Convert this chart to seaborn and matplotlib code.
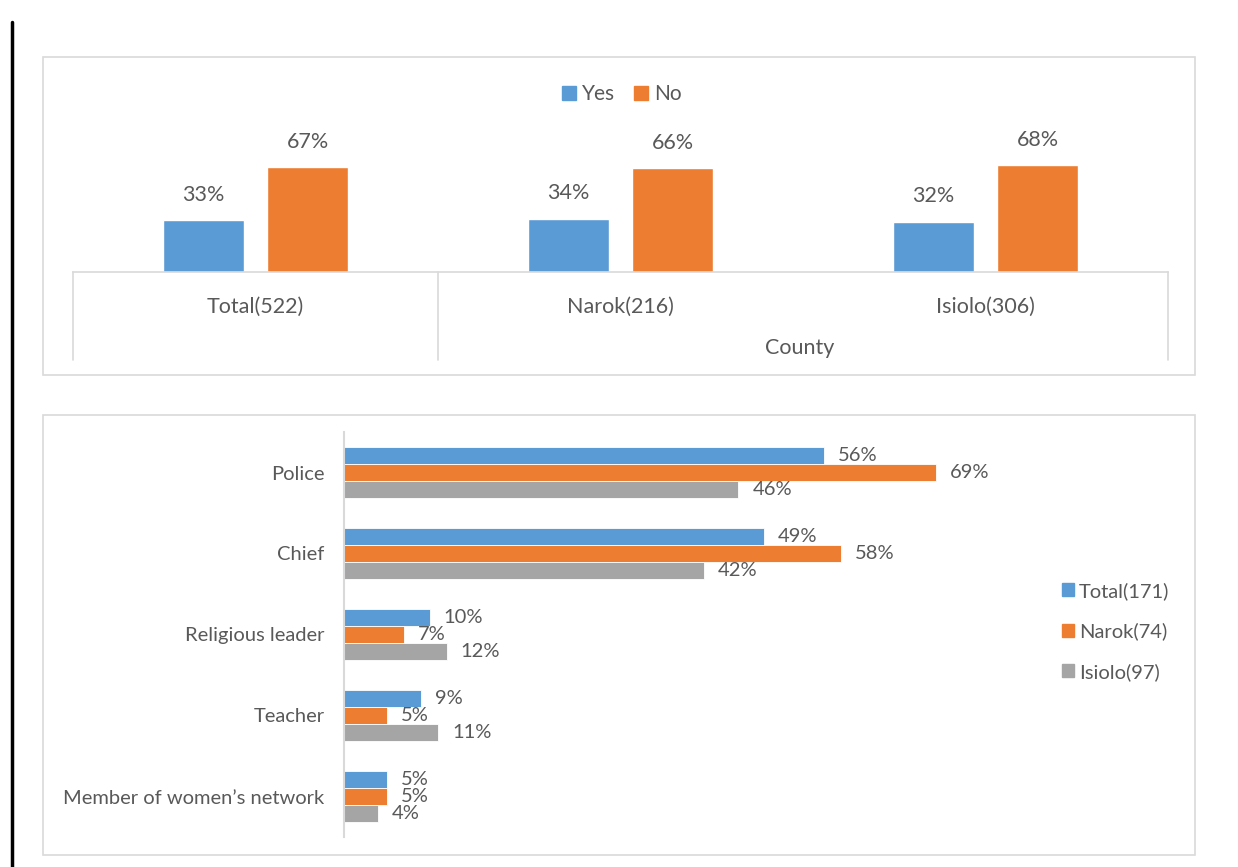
import matplotlib
matplotlib.use("Agg")
import matplotlib.pyplot as plt
import matplotlib.patches as mpatches
from matplotlib.lines import Line2D
import pandas as pd
import seaborn as sns

# data: top panel (reporting yes/no by county)
counties = ["Total(522)", "Narok(216)", "Isiolo(306)"]
yes_pct = [33, 34, 32]
no_pct = [67, 66, 68]

# data: bottom panel (who it was reported to)
roles = ["Police", "Chief", "Religious leader", "Teacher", "Member of women\u2019s network"]
groups = ["Total(171)", "Narok(74)", "Isiolo(97)"]
total_pct = [56, 49, 10, 9, 5]
narok_pct = [69, 58, 7, 5, 5]
isiolo_pct = [46, 42, 12, 11, 4]

BLUE, ORANGE, GREY = "#5B9BD5", "#ED7D31", "#A5A5A5"
TXT = "#595959"
LINE = "#D9D9D9"

sns.set_theme(style="white")
plt.rcParams["font.family"] = ["Lato", "DejaVu Sans"]

W, H = 1238, 867
fig = plt.figure(figsize=(W / 100, H / 100), dpi=100)


def fx(px):
    return px / W


def fy(py):
    return 1 - py / H


# panel frames and the black margin line
for top, bot in [(57, 375), (415, 855)]:
    fig.add_artist(mpatches.Rectangle((fx(43), fy(bot)), fx(1195) - fx(43), fy(top) - fy(bot),
                                      transform=fig.transFigure, fill=False,
                                      edgecolor=LINE, linewidth=1.2))
fig.add_artist(Line2D([fx(12), fx(12)], [fy(22), fy(867)], transform=fig.transFigure,
                      color="black", linewidth=2.5))

# ---- top chart
top_df = pd.DataFrame({
    "county": counties * 2,
    "answer": ["Yes"] * 3 + ["No"] * 3,
    "pct": yes_pct + no_pct,
})
ax1 = fig.add_axes([fx(73), fy(272), fx(1168) - fx(73), fy(115) - fy(272)])
sns.barplot(top_df, x="county", y="pct", hue="answer", order=counties,
            hue_order=["Yes", "No"], palette=[BLUE, ORANGE], width=0.57, gap=0.22,
            saturation=1, ax=ax1, legend=False)
ax1.set_xlim(-0.5, 2.5)
ax1.set_ylim(0, 100)
for c in ax1.containers:
    ax1.bar_label(c, labels=[f"{v:.0f}%" for v in c.datavalues], padding=11,
                  fontsize=15.5, color=TXT)
for s in ["top", "right", "left"]:
    ax1.spines[s].set_visible(False)
ax1.spines["bottom"].set_color(LINE)
ax1.spines["bottom"].set_linewidth(1.2)
ax1.set_yticks([])
ax1.set_xlabel("")
ax1.set_ylabel("")
ax1.tick_params(axis="x", length=0, pad=18, labelsize=15.5, labelcolor=TXT)
tr = ax1.get_xaxis_transform()
for xv in [-0.5, 0.5, 2.5]:
    ax1.add_line(Line2D([xv, xv], [0, -88 / 157], transform=tr, color=LINE,
                        linewidth=1.2, clip_on=False))
ax1.text(1.49, -76 / 157, "County", transform=tr, ha="center", va="center",
         fontsize=15.5, color=TXT)
handles = [mpatches.Patch(color=BLUE, label="Yes"), mpatches.Patch(color=ORANGE, label="No")]
fig.legend(handles=handles, loc="center", bbox_to_anchor=(fx(622), fy(94)), ncol=2,
           frameon=False, fontsize=15, labelcolor=TXT, handlelength=0.65,
           handleheight=0.65, handletextpad=0.3, columnspacing=0.9)

# ---- bottom chart
bot_df = pd.DataFrame({
    "role": roles * 3,
    "group": [groups[0]] * 5 + [groups[1]] * 5 + [groups[2]] * 5,
    "pct": total_pct + narok_pct + isiolo_pct,
})
ax2 = fig.add_axes([fx(344), fy(837), fx(1030) - fx(344), fy(432) - fy(837)])
sns.barplot(bot_df, x="pct", y="role", hue="group", order=roles, hue_order=groups,
            palette=[BLUE, ORANGE, GREY], width=0.62, orient="h", ax=ax2,
            saturation=1, edgecolor="white", linewidth=0.6, legend=False)
ax2.set_xlim(0, 80)
ax2.set_ylim(4.5, -0.5)
for c in ax2.containers:
    ax2.bar_label(c, labels=[f"{v:.0f}%" for v in c.datavalues], padding=10,
                  fontsize=14.5, color=TXT)
for s in ["top", "right", "bottom"]:
    ax2.spines[s].set_visible(False)
ax2.spines["left"].set_color(LINE)
ax2.spines["left"].set_linewidth(1.5)
ax2.set_xticks([])
ax2.set_xlabel("")
ax2.set_ylabel("")
ax2.tick_params(axis="y", length=0, pad=14, labelsize=14.5, labelcolor=TXT)
handles2 = [mpatches.Patch(color=col, label=g) for col, g in zip([BLUE, ORANGE, GREY], groups)]
fig.legend(handles=handles2, loc="upper left", bbox_to_anchor=(fx(1054), fy(574)),
           frameon=False, fontsize=14.5, labelcolor=TXT, handlelength=0.6,
           handleheight=0.6, handletextpad=0.25, labelspacing=1.12, borderaxespad=0)

fig.savefig("out.png", dpi=100)
